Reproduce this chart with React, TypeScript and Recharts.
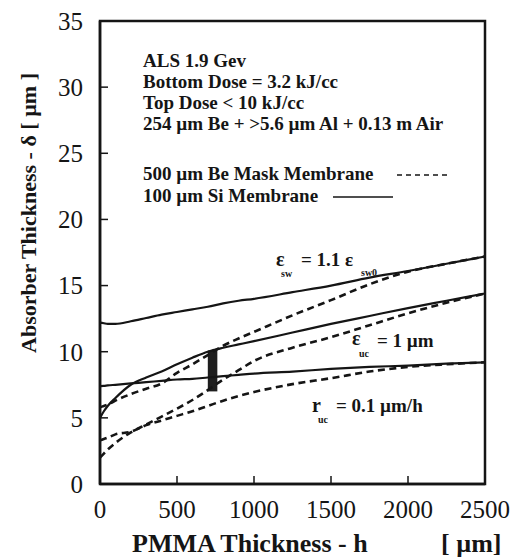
import React from "react";
import { LineChart, Line, XAxis, YAxis, ReferenceArea } from "recharts";

// PMMA thickness h (µm) sample points
const hValues = [0, 25, 50, 100, 200, 300, 400, 500, 600, 700, 800, 900, 1000, 1250, 1500, 1750, 2000, 2250, 2500];

// 100 µm Si membrane (solid)
const siSwell = [12.2, 12.15, 12.1, 12.1, 12.3, 12.55, 12.8, 13.0, 13.2, 13.4, 13.65, 13.85, 14.0, 14.5, 15.0, 15.6, 16.1, 16.65, 17.2];
const siUncured = [5.0, 5.5, 5.9, 6.5, 7.5, 8.05, 8.5, 9.05, 9.55, 10.0, 10.3, 10.55, 10.8, 11.45, 12.1, 12.7, 13.3, 13.85, 14.4];
const siRate = [7.4, 7.42, 7.45, 7.5, 7.6, 7.7, 7.8, 7.9, 7.95, 8.05, 8.15, 8.25, 8.35, 8.5, 8.7, 8.85, 8.95, 9.1, 9.2];

// 500 µm Be mask membrane (dashed)
const beSwell = [5.8, 5.9, 6.0, 6.3, 6.8, 7.2, 7.6, 8.4, 9.05, 9.75, 10.45, 11.0, 11.5, 12.75, 13.9, 15.1, 16.05, 16.65, 17.2];
const beUncured = [2.0, 2.3, 2.6, 3.1, 3.9, 4.5, 5.1, 5.7, 6.35, 7.1, 7.9, 8.6, 9.3, 10.3, 11.1, 12.0, 12.9, 13.7, 14.4];
const beRate = [3.3, 3.4, 3.5, 3.75, 3.95, 4.45, 4.8, 5.15, 5.5, 5.9, 6.3, 6.65, 6.95, 7.55, 8.0, 8.5, 8.85, 9.05, 9.2];

const xTicks = [0, 500, 1000, 1500, 2000, 2500];
const yTicks = [0, 5, 10, 15, 20, 25, 30, 35];

// operating window bar
const barH = [700, 762];
const barDelta = [7.0, 10.1];

const infoLines = [
  "ALS 1.9 Gev",
  "Bottom Dose = 3.2 kJ/cc",
  "Top Dose < 10 kJ/cc",
  "254 µm Be + >5.6 µm Al + 0.13 m Air",
];

const data = hValues.map((h, i) => ({
  h,
  siSwell: siSwell[i],
  siUncured: siUncured[i],
  siRate: siRate[i],
  beSwell: beSwell[i],
  beUncured: beUncured[i],
  beRate: beRate[i],
}));

const ink = "#151515";
const serif = "Liberation Serif, DejaVu Serif, serif";
const dash = "7 4.5";

export default function App() {
  const tickStyle = { fontSize: 25, fill: ink, fontFamily: serif };
  return (
    <div style={{ position: "absolute", left: 0, top: 0, width: 515, height: 559, background: "#fff", fontFamily: serif }}>
      <LineChart width={515} height={559} data={data} margin={{ top: 21, right: 30, bottom: 0, left: 0 }}>
        <XAxis
          dataKey="h"
          type="number"
          domain={[0, 2500]}
          ticks={xTicks}
          height={75}
          tickSize={-8}
          tickMargin={24}
          tick={tickStyle}
          stroke={ink}
          axisLine={{ stroke: ink, strokeWidth: 2.5 }}
          tickLine={{ stroke: ink, strokeWidth: 1.5 }}
        />
        <YAxis
          type="number"
          domain={[0, 35]}
          ticks={yTicks}
          width={100}
          tickSize={-8}
          tickMargin={25}
          tick={tickStyle}
          stroke={ink}
          axisLine={{ stroke: ink, strokeWidth: 2.5 }}
          tickLine={{ stroke: ink, strokeWidth: 1.5 }}
        />
        <ReferenceArea x1={0} x2={2500} y1={0} y2={35} fill="none" stroke={ink} strokeWidth={2.5} />
        <ReferenceArea x1={barH[0]} x2={barH[1]} y1={barDelta[0]} y2={barDelta[1]} fill="#1e1e1e" fillOpacity={1} stroke="none" />
        <Line dataKey="siSwell" type="monotone" stroke={ink} strokeWidth={2.2} dot={false} isAnimationActive={false} />
        <Line dataKey="siUncured" type="monotone" stroke={ink} strokeWidth={2.2} dot={false} isAnimationActive={false} />
        <Line dataKey="siRate" type="monotone" stroke={ink} strokeWidth={2.2} dot={false} isAnimationActive={false} />
        <Line dataKey="beSwell" type="monotone" stroke={ink} strokeWidth={2.6} strokeDasharray={dash} dot={false} isAnimationActive={false} />
        <Line dataKey="beUncured" type="monotone" stroke={ink} strokeWidth={2.6} strokeDasharray={dash} dot={false} isAnimationActive={false} />
        <Line dataKey="beRate" type="monotone" stroke={ink} strokeWidth={2.6} strokeDasharray={dash} dot={false} isAnimationActive={false} />
      </LineChart>
      <svg
        width={515}
        height={559}
        style={{ position: "absolute", left: 0, top: 0, pointerEvents: "none", fontFamily: serif, fontWeight: "bold" }}
        fill={ink}
      >
        <text transform="translate(36,213) rotate(-90)" textAnchor="middle" fontSize={22}>
          Absorber Thickness - δ [ µm ]
        </text>
        <text x={132} y={552} fontSize={26}>
          PMMA Thickness - h
        </text>
        <text x={441} y={552} fontSize={26}>
          [ µm]
        </text>
        {infoLines.map((line, i) => (
          <text key={line} x={143} y={67 + i * 21} fontSize={19}>
            {line}
          </text>
        ))}
        <text x={143} y={180} fontSize={19}>500 µm Be Mask Membrane</text>
        <line x1={397} x2={448} y1={175} y2={175} stroke={ink} strokeWidth={1.6} strokeDasharray="5 4" />
        <text x={143} y={202} fontSize={19}>100 µm Si Membrane</text>
        <line x1={333} x2={393} y1={197} y2={197} stroke={ink} strokeWidth={1.3} />

        <text x={276} y={266} fontSize={20}>ε</text>
        <text x={281} y={277} fontSize={10}>sw</text>
        <text x={301} y={266} fontSize={19}>= 1.1 ε</text>
        <text x={361} y={276} fontSize={10}>sw0</text>

        <text x={352} y={345} fontSize={20}>ε</text>
        <text x={359} y={357} fontSize={10}>uc</text>
        <text x={377} y={347} fontSize={19}>= 1 µm</text>

        <text x={312} y={412} fontSize={20}>r</text>
        <text x={318} y={423} fontSize={10}>uc</text>
        <text x={336} y={412} fontSize={19}>= 0.1 µm/h</text>
      </svg>
    </div>
  );
}
